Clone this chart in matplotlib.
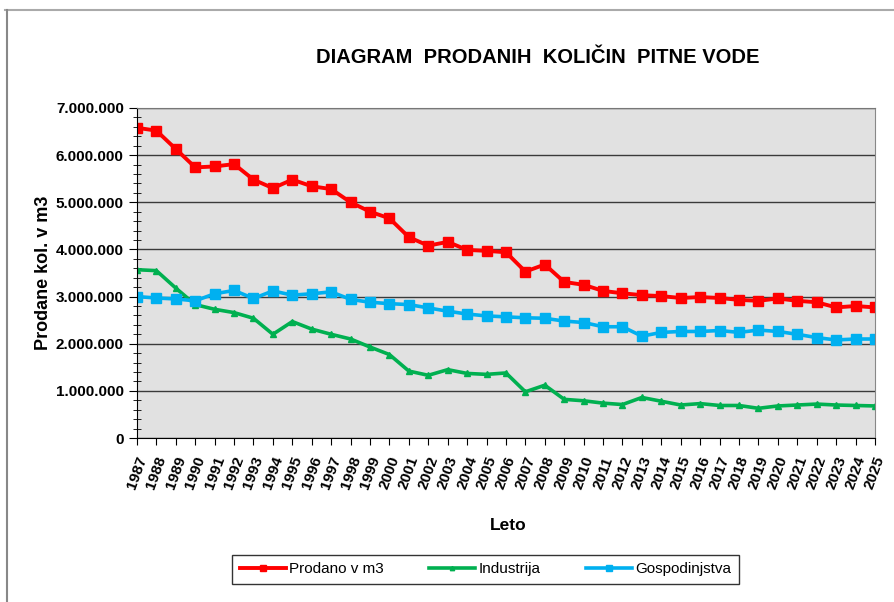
import matplotlib.pyplot as plt
from matplotlib.ticker import MultipleLocator, FuncFormatter
from matplotlib.lines import Line2D

plt.rcParams['font.family'] = ['Liberation Sans', 'DejaVu Sans']

years = list(range(1987, 2026))

prodano = [6.58, 6.52, 6.13, 5.74, 5.76, 5.81, 5.48, 5.30, 5.48, 5.34,
           5.28, 5.00, 4.80, 4.66, 4.26, 4.08, 4.16, 3.99, 3.97, 3.94,
           3.53, 3.68, 3.31, 3.25, 3.12, 3.07, 3.03, 3.01, 2.97, 2.99,
           2.97, 2.93, 2.91, 2.96, 2.91, 2.88, 2.77, 2.80, 2.77]
industrija = [3.57, 3.55, 3.18, 2.83, 2.73, 2.66, 2.54, 2.20, 2.47, 2.31,
              2.20, 2.10, 1.93, 1.77, 1.42, 1.33, 1.45, 1.37, 1.35, 1.38,
              0.98, 1.12, 0.82, 0.79, 0.74, 0.71, 0.86, 0.78, 0.70, 0.73,
              0.69, 0.69, 0.63, 0.68, 0.70, 0.72, 0.70, 0.69, 0.68]
gospodinjstva = [3.00, 2.97, 2.95, 2.91, 3.06, 3.13, 2.96, 3.12, 3.03, 3.06,
                 3.10, 2.94, 2.88, 2.85, 2.83, 2.76, 2.69, 2.63, 2.59, 2.57,
                 2.55, 2.54, 2.48, 2.45, 2.36, 2.36, 2.16, 2.24, 2.26, 2.26,
                 2.28, 2.24, 2.29, 2.26, 2.20, 2.13, 2.08, 2.10, 2.10]

# v milijonih -> m3
prodano = [v * 1e6 for v in prodano]
industrija = [v * 1e6 for v in industrija]
gospodinjstva = [v * 1e6 for v in gospodinjstva]

fig = plt.figure(figsize=(8.94, 6.02), dpi=100)
ax = fig.add_axes([0.1532, 0.2724, 0.8255, 0.5482])
ax.set_facecolor('#e1e1e1')

ax.plot(years, prodano, color='#ff0000', lw=2.8, marker='s', ms=6.5, label='Prodano v m3')
ax.plot(years, industrija, color='#00b050', lw=2.6, marker='^', ms=4.5, label='Industrija')
ax.plot(years, gospodinjstva, color='#00b0f0', lw=2.6, marker='s', ms=6.5, label='Gospodinjstva')

ax.set_xlim(1987, 2025)
ax.set_ylim(0, 7000000)
ax.yaxis.set_major_locator(MultipleLocator(1000000))
ax.yaxis.set_minor_locator(MultipleLocator(200000))
ax.yaxis.set_major_formatter(FuncFormatter(lambda v, p: f'{int(v):,}'.replace(',', '.')))
ax.grid(axis='y', which='major', color='#3a3a3a', lw=1)
ax.set_axisbelow(True)

ax.set_xticks(years)
ax.set_xticklabels([str(y) for y in years], rotation=70, fontsize=11, fontweight='bold')
for lab in ax.get_yticklabels():
    lab.set_fontweight('bold')
ax.tick_params(axis='y', which='major', labelsize=11, direction='out', length=6)
ax.tick_params(axis='y', which='minor', direction='inout', length=6)
ax.tick_params(axis='x', direction='out', length=5, pad=7)

ax.spines['top'].set_color('#777777')
ax.spines['right'].set_color('#888888')
ax.spines['left'].set_color('black')
ax.spines['bottom'].set_color('black')

ax.set_ylabel('Prodane kol. v m3', fontsize=13, fontweight='bold', labelpad=3)
fig.text(0.568, 0.127, 'Leto', fontsize=12.5, fontweight='bold', ha='center', va='center')
fig.text(0.601, 0.904, 'DIAGRAM  PRODANIH  KOLIČIN  PITNE VODE', fontsize=14.5,
         fontweight='bold', ha='center', va='center')

leg = fig.legend(loc='center', bbox_to_anchor=(0.543, 0.0545), ncol=3, fontsize=11,
                 frameon=True, fancybox=False, edgecolor='black', handlelength=3,
                 handletextpad=0.2, columnspacing=3.0, borderpad=0.5, markerscale=0.7)
leg.get_frame().set_linewidth(1)

# okvir grafikona
fig.add_artist(Line2D([0.006, 1.0], [0.983, 0.983], color='#aaaaaa', lw=1.5))
fig.add_artist(Line2D([0.008, 0.008], [0.0, 0.983], color='#888888', lw=1.5))

fig.savefig('out.png', dpi=100)
